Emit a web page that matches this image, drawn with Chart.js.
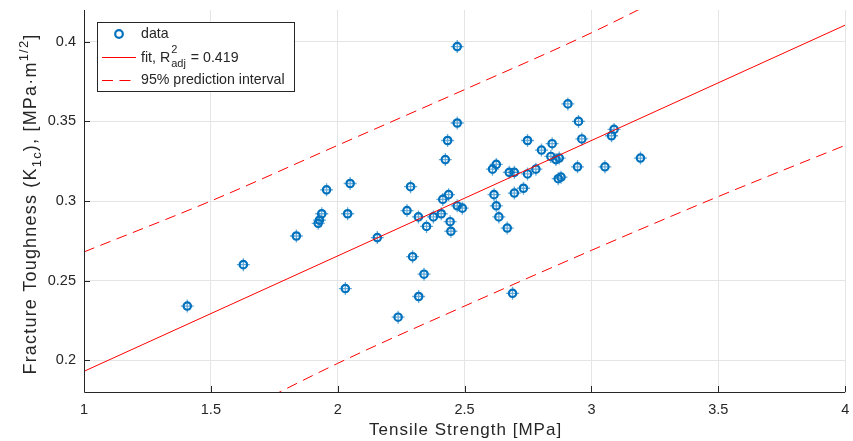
<!DOCTYPE html>
<html>
<head>
<meta charset="utf-8">
<script src="https://cdn.jsdelivr.net/npm/chart.js@4"></script>
<style>
  html, body { margin: 0; padding: 0; background: #fff; }
  #wrap { width: 853px; height: 441px; }
</style>
</head>
<body>
<div id="wrap"><canvas id="chart" width="853" height="441"></canvas></div>
<script>
// measured specimens: tensile strength [MPa] vs fracture toughness [MPa m^1/2]
const tensile = [
  1.407, 1.628, 1.837, 1.923, 1.928, 1.937, 1.956, 2.030, 2.039, 2.049,
  2.156, 2.238, 2.273, 2.287, 2.295, 2.318, 2.319, 2.340, 2.350, 2.377,
  2.408, 2.414, 2.424, 2.433, 2.437, 2.443, 2.446, 2.471, 2.471, 2.471,
  2.491, 2.610, 2.616, 2.625, 2.625, 2.635, 2.668, 2.676, 2.689, 2.696,
  2.696, 2.732, 2.748, 2.748, 2.781, 2.803, 2.840, 2.845, 2.860, 2.869,
  2.873, 2.880, 2.907, 2.945, 2.949, 2.962, 3.053, 3.079, 3.089, 3.193
];
const toughness = [
  0.234, 0.260, 0.278, 0.286, 0.288, 0.292, 0.307, 0.245, 0.292, 0.311,
  0.277, 0.227, 0.294, 0.309, 0.265, 0.290, 0.240, 0.254, 0.284, 0.290,
  0.292, 0.301, 0.326, 0.338, 0.304, 0.287, 0.281, 0.397, 0.349, 0.297,
  0.2955, 0.320, 0.304, 0.323, 0.297, 0.290, 0.283, 0.318, 0.242, 0.318,
  0.305, 0.308, 0.338, 0.317, 0.320, 0.332, 0.328, 0.336, 0.326, 0.314,
  0.327, 0.315, 0.361, 0.3215, 0.350, 0.339, 0.3215, 0.341, 0.345, 0.327
];

// linear fit and 95% prediction bounds
const fitX = [1, 4];
const fitY = [0.193, 0.4105];
const bandX = [1, 1.5, 2, 2.5, 3, 3.5, 4];
const upperY = [0.268, 0.300, 0.335, 0.370, 0.4057, 0.4456, 0.486];
const lowerY = [0.118, 0.158, 0.198, 0.234, 0.269, 0.3028, 0.335];

const xTicks = [1, 1.5, 2, 2.5, 3, 3.5, 4];
const yTicks = [0.2, 0.25, 0.3, 0.35, 0.4];

const FONT = '"Liberation Sans", Arial, Helvetica, sans-serif';
const INK = '#262626';
const BLUE = '#0072BD';
const RED = '#FF0000';
const DASH = [11, 6.5];

const pts = (xs, ys) => xs.map((x, i) => ({ x: x, y: ys[i] }));

// axis lines, inward ticks, axis titles and the boxed legend
const decorations = {
  id: 'decorations',
  afterDraw(chart) {
    const c = chart.ctx;
    const a = chart.chartArea;
    const sx = chart.scales.x, sy = chart.scales.y;
    c.save();
    c.strokeStyle = INK;
    c.lineWidth = 1;
    c.beginPath();
    c.moveTo(a.left + 0.5, a.top);
    c.lineTo(a.left + 0.5, a.bottom + 0.5);
    c.lineTo(a.right, a.bottom + 0.5);
    xTicks.forEach(v => {
      const px = Math.round(sx.getPixelForValue(v)) + 0.5;
      c.moveTo(px, a.bottom);
      c.lineTo(px, a.bottom - 6);
    });
    yTicks.forEach(v => {
      const py = Math.round(sy.getPixelForValue(v)) + 0.5;
      c.moveTo(a.left, py);
      c.lineTo(a.left + 6, py);
    });
    c.stroke();

    // x title
    c.fillStyle = INK;
    c.font = '17px ' + FONT;
    c.letterSpacing = '1px';
    c.textAlign = 'center';
    c.textBaseline = 'middle';
    c.fillText('Tensile Strength [MPa]', (a.left + a.right) / 2 + 1, 430);

    // y title with sub- and superscripts, written bottom to top
    const parts = [
      ['Fracture Toughness (K', 0],
      ['1c', -1],
      ['), [MPa\u00B7m', 0],
      ['1/2', 1],
      [']', 0]
    ];
    const big = '18px ' + FONT, small = '13px ' + FONT;
    c.letterSpacing = '1.2px';
    let total = 0;
    parts.forEach(p => { c.font = p[1] ? small : big; total += c.measureText(p[0]).width; });
    c.translate(30, 204);
    c.rotate(-Math.PI / 2);
    c.textAlign = 'left';
    c.textBaseline = 'alphabetic';
    let cx = -total / 2;
    parts.forEach(p => {
      c.font = p[1] ? small : big;
      const dy = p[1] < 0 ? 5 : (p[1] > 0 ? -8 : 0);
      c.fillText(p[0], cx, 6 + dy);
      cx += c.measureText(p[0]).width;
    });
    c.restore();

    // legend
    c.save();
    const lx = 97, ly = 22, lw = 197, lh = 69;
    c.fillStyle = '#fff';
    c.fillRect(lx, ly, lw, lh);
    c.strokeStyle = INK;
    c.lineWidth = 1;
    c.strokeRect(lx + 0.5, ly + 0.5, lw, lh);

    c.strokeStyle = BLUE;
    c.lineWidth = 2.2;
    c.beginPath();
    c.arc(119, 34, 3.8, 0, Math.PI * 2);
    c.stroke();

    c.strokeStyle = RED;
    c.lineWidth = 1;
    c.beginPath();
    c.moveTo(102, 57.5);
    c.lineTo(136, 57.5);
    c.stroke();
    c.setLineDash(DASH);
    c.beginPath();
    c.moveTo(102, 80.5);
    c.lineTo(136, 80.5);
    c.stroke();
    c.setLineDash([]);

    c.fillStyle = INK;
    c.textAlign = 'left';
    c.textBaseline = 'middle';
    c.font = '14.2px ' + FONT;
    c.fillText(chart.data.datasets[1].label, 141, 34);
    c.fillText('fit, R', 141, 58);
    let tx = 141 + c.measureText('fit, R').width + 1;
    c.font = '11px ' + FONT;
    c.fillText('2', tx, 50);
    c.fillText('adj', tx, 64);
    tx += c.measureText('adj').width + 1;
    c.font = '14.2px ' + FONT;
    c.fillText(' = 0.419', tx, 58);
    c.fillText(chart.data.datasets[3].label, 141, 80);
    c.restore();
  }
};

new Chart(document.getElementById('chart'), {
  type: 'scatter',
  data: {
    datasets: [
      {
        label: 'error bars',
        data: pts(tensile, toughness),
        pointStyle: 'cross',
        pointRadius: 6.5,
        borderColor: 'rgba(0,114,189,0.6)',
        borderWidth: 1.3,
        order: 5
      },
      {
        label: 'data',
        data: pts(tensile, toughness),
        pointStyle: 'circle',
        pointRadius: 3.7,
        borderColor: BLUE,
        backgroundColor: 'rgba(0,0,0,0)',
        borderWidth: 2.2,
        order: 4
      },
      {
        label: 'fit',
        data: pts(fitX, fitY),
        showLine: true,
        borderColor: RED,
        borderWidth: 1,
        pointRadius: 0,
        order: 3
      },
      {
        label: '95% prediction interval',
        data: pts(bandX, upperY),
        showLine: true,
        cubicInterpolationMode: 'monotone',
        borderColor: RED,
        borderWidth: 1,
        borderDash: DASH,
        pointRadius: 0,
        order: 2
      },
      {
        label: '95% prediction interval (lower)',
        data: pts(bandX, lowerY),
        showLine: true,
        cubicInterpolationMode: 'monotone',
        borderColor: RED,
        borderWidth: 1,
        borderDash: DASH,
        pointRadius: 0,
        order: 1
      }
    ]
  },
  options: {
    responsive: false,
    animation: false,
    events: [],
    layout: { padding: { top: 10, right: 7, left: 0, bottom: 0 } },
    plugins: { legend: { display: false }, tooltip: { enabled: false } },
    scales: {
      x: {
        type: 'linear',
        min: 1, max: 4,
        afterBuildTicks: s => { s.ticks = xTicks.map(v => ({ value: v })); },
        afterFit: s => { s.height = 49; s.paddingLeft = 0; s.paddingRight = 0; },
        grid: { color: '#e5e5e5', drawTicks: false },
        border: { display: false },
        ticks: { padding: 9, color: INK, font: { family: FONT, size: 14.5 }, maxRotation: 0, callback: v => String(v) }
      },
      y: {
        type: 'linear',
        min: 0.18, max: 0.42,
        afterBuildTicks: s => { s.ticks = yTicks.map(v => ({ value: v })); },
        afterFit: s => { s.width = 84; s.paddingTop = 0; s.paddingBottom = 0; },
        grid: { color: '#e5e5e5', drawTicks: false },
        border: { display: false },
        ticks: { padding: 8, color: INK, font: { family: FONT, size: 14.5 }, callback: v => String(v) }
      }
    }
  },
  plugins: [decorations]
});
</script>
</body>
</html>
